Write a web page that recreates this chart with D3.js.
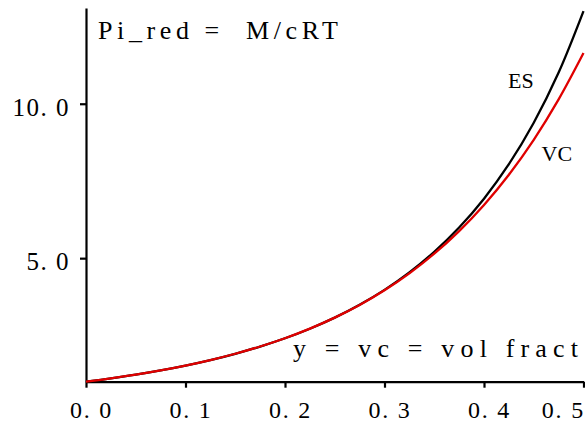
<!DOCTYPE html>
<html>
<head>
<meta charset="utf-8">
<script src="https://cdn.jsdelivr.net/npm/d3@7"></script>
<style>
  body { margin: 0; background: #fff; }
  text { font-family: "Liberation Serif", "DejaVu Serif", serif; fill: #000; }
</style>
</head>
<body>
<svg id="chart" width="585" height="423"></svg>
<script>
// volume fraction samples
var vf = [0, 0.025, 0.05, 0.075, 0.1, 0.125, 0.15, 0.175, 0.2, 0.225, 0.25,
          0.275, 0.3, 0.325, 0.35, 0.375, 0.4, 0.425, 0.45, 0.475, 0.5];

// ES curve (black)
var esVals = [1.0, 1.107, 1.227, 1.365, 1.521, 1.700, 1.904, 2.138, 2.406, 2.716, 3.074,
              3.490, 3.974, 4.540, 5.206, 5.992, 6.926, 8.042, 9.385, 11.01, 13.0];

// VC curve (red)
var vcVals = [1.0, 1.107, 1.228, 1.365, 1.522, 1.700, 1.905, 2.139, 2.408, 2.718, 3.074,
              3.485, 3.960, 4.509, 5.143, 5.877, 6.724, 7.703, 8.833, 10.14, 11.64];

var xTicks = [0, 0.1, 0.2, 0.3, 0.4, 0.5];
var yTicks = [5, 10];

var svg = d3.select("#chart");

// plot frame
var mLeft = 86, mRight = 583.5, mTop = 8, mBottom = 381.7;

var x = d3.scaleLinear().domain([0, 0.5]).range([mLeft, mRight]);
var y = d3.scaleLinear().domain([1, 13.1]).range([mBottom, mTop]);

var fmt = function(d){ return d3.format(".1f")(d).replace(".", ". "); };

// x axis
var xAxis = svg.append("g")
  .attr("transform", "translate(0," + mBottom + ")")
  .call(d3.axisBottom(x).tickValues(xTicks).tickSize(6).tickSizeOuter(0).tickFormat(fmt));
xAxis.select(".domain").attr("stroke-width", 2.2);
xAxis.selectAll(".tick line").attr("stroke-width", 2.2);
xAxis.selectAll(".tick text")
  .attr("font-size", 24)
  .attr("letter-spacing", 1.8)
  .attr("dy", 0).attr("y", 36).attr("dx", 5)
  .style("font-family", "Liberation Serif");
// last label sits against the right edge
xAxis.selectAll(".tick text").filter(function(d){ return d === 0.5; })
  .attr("text-anchor", "end").attr("dx", 1).attr("x", 0);

// y axis
var yAxis = svg.append("g")
  .attr("transform", "translate(" + mLeft + ",0)")
  .call(d3.axisLeft(y).tickValues(yTicks).tickSize(6).tickSizeOuter(0).tickFormat(fmt));
yAxis.select(".domain").attr("stroke-width", 2.2);
yAxis.selectAll(".tick line").attr("stroke-width", 2.2);
yAxis.selectAll(".tick text")
  .attr("font-size", 25)
  .attr("letter-spacing", 1.5)
  .attr("x", -16).attr("dy", 0).attr("y", 11.8)
  .style("font-family", "Liberation Serif");

// curves
var line = d3.line()
  .x(function(d){ return x(d[0]); })
  .y(function(d){ return y(d[1]); })
  .curve(d3.curveCatmullRom);

svg.append("path")
  .datum(d3.zip(vf, esVals))
  .attr("d", line)
  .attr("fill", "none")
  .attr("stroke", "#000")
  .attr("stroke-width", 2.3);

svg.append("path")
  .datum(d3.zip(vf, vcVals))
  .attr("d", line)
  .attr("fill", "none")
  .attr("stroke", "#e00000")
  .attr("stroke-width", 2.3);

// labels
svg.append("text").attr("x", 98).attr("y", 39.3)
  .attr("font-size", 26)
  .attr("textLength", 240).attr("lengthAdjust", "spacing")
  .style("white-space", "pre")
  .text("Pi_red =  M/cRT");

svg.append("text").attr("x", 293).attr("y", 357.3)
  .attr("font-size", 26)
  .attr("textLength", 285).attr("lengthAdjust", "spacing")
  .style("white-space", "pre")
  .text("y = vc = vol fract");

svg.append("text").attr("x", 508).attr("y", 88.3)
  .attr("font-size", 22).text("ES");

svg.append("text").attr("x", 541.5).attr("y", 160.5)
  .attr("font-size", 22).text("VC");
</script>
</body>
</html>
